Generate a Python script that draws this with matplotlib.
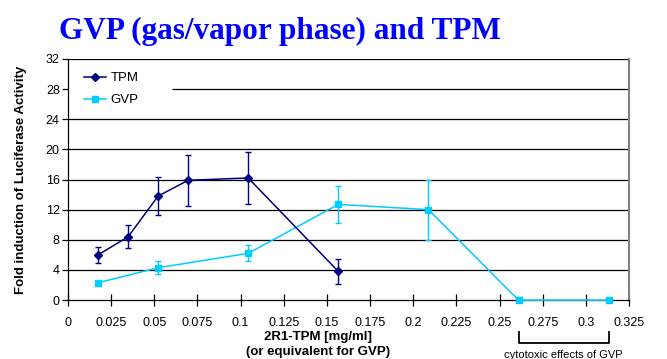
import matplotlib
matplotlib.use('Agg')
from matplotlib import pyplot as plt
import matplotlib.transforms as mtransforms
from matplotlib.lines import Line2D

# data
tpm_x = [0.0174, 0.0348, 0.0522, 0.0696, 0.1044, 0.1566]
tpm_y = [6.0, 8.4, 13.8, 15.9, 16.2, 3.8]
tpm_err = [1.1, 1.5, 2.5, 3.4, 3.5, 1.6]

gvp_x = [0.0174, 0.0522, 0.1044, 0.1566, 0.2088, 0.261, 0.3132]
gvp_y = [2.3, 4.3, 6.2, 12.7, 12.0, 0.0, 0.0]
gvp_err = [0.3, 0.85, 1.05, 2.45, 4.0, 0.0, 0.0]

xticks = [0, 0.025, 0.05, 0.075, 0.1, 0.125, 0.15, 0.175, 0.2, 0.225, 0.25, 0.275, 0.3, 0.325]
xticklabels = ['0', '0.025', '0.05', '0.075', '0.1', '0.125', '0.15', '0.175', '0.2',
               '0.225', '0.25', '0.275', '0.3', '0.325']
yticks = [0, 4, 8, 12, 16, 20, 24, 28, 32]

plt.rcParams['font.family'] = ['Liberation Sans', 'DejaVu Sans']

fig = plt.figure(figsize=(6.67, 3.59), dpi=100)
ax = fig.add_axes([0.102, 0.164, 0.841, 0.672])

# gridlines; the one at 28 is hidden behind the legend on the left
for y in yticks[1:]:
    start = 0.0603 if y == 28 else 0
    ax.hlines(y, start, 0.325, color='black', lw=0.9, zorder=1)

ax.errorbar(tpm_x, tpm_y, yerr=tpm_err, color='#000080', marker='D', markersize=4,
            lw=1.1, elinewidth=1, capsize=2.5, capthick=1, zorder=4)
ax.errorbar(gvp_x, gvp_y, yerr=gvp_err, color='#00CCFF', marker='s', markersize=4.5,
            lw=1.1, elinewidth=1, capsize=2.5, capthick=1, zorder=3, clip_on=False)

ax.set_xlim(0, 0.325)
ax.set_ylim(0, 32)
ax.set_xticks(xticks)
ax.set_xticklabels(xticklabels)
ax.set_yticks(yticks)
ax.tick_params(axis='x', direction='inout', length=8, width=0.9, labelsize=9, pad=8.5)
ax.tick_params(axis='y', direction='out', length=4, width=0.9, labelsize=9, pad=2)
ax.spines['top'].set_visible(False)
ax.spines['right'].set_color('#808080')
ax.spines['right'].set_linewidth(1.5)
ax.spines['left'].set_linewidth(0.9)
ax.spines['bottom'].set_linewidth(0.9)

ax.set_ylabel('Fold induction of Luciferase Activity', fontsize=9.5, fontweight='bold')
ax.yaxis.set_label_coords(-0.073, 0.5, transform=ax.transAxes)
ax.set_xlabel('2R1-TPM [mg/ml]\n(or equivalent for GVP)', fontsize=9.5, fontweight='bold',
              linespacing=1.3)
ax.xaxis.set_label_coords(0.446, -0.185, transform=ax.transAxes)
ax.xaxis.label.set_va('center')

handles = [Line2D([], [], color='#000080', marker='D', markersize=4, lw=1.1),
           Line2D([], [], color='#00CCFF', marker='s', markersize=4.5, lw=1.1)]
leg = ax.legend(handles, ['TPM', 'GVP'], loc='upper left', bbox_to_anchor=(0.005, 1.0),
                frameon=False, fontsize=9.5, handlelength=1.7, handletextpad=0.3,
                labelspacing=0.75, borderpad=0.5)
leg.set_zorder(5)

# bracket for cytotoxic range
trans = mtransforms.blended_transform_factory(ax.transData, fig.transFigure)
bx0, bx1 = gvp_x[-2], gvp_x[-1]
ax.plot([bx0, bx0, bx1, bx1], [1 - 332 / 359, 1 - 343 / 359, 1 - 343 / 359, 1 - 332 / 359],
        color='black', lw=1.3, transform=trans, clip_on=False)
ax.text((bx0 + bx1) / 2, 1 - 350 / 359, 'cytotoxic effects of GVP', transform=trans,
        ha='center', va='top', fontsize=8)

fig.text(0.42, 0.912, 'GVP (gas/vapor phase) and TPM', ha='center', va='center',
         fontsize=22.5, fontweight='bold', color='#0000FF', family='Liberation Serif')

fig.savefig('out.png', dpi=100)
